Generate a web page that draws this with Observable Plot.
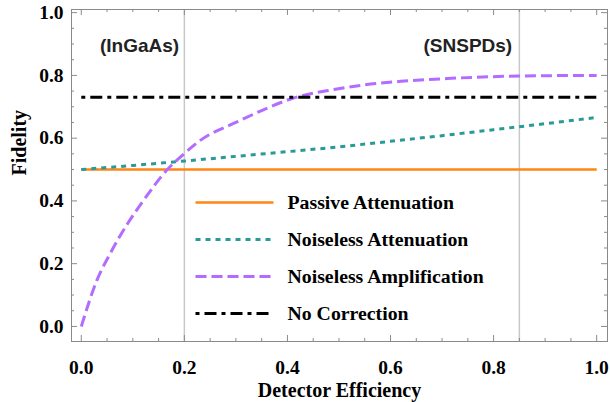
<!DOCTYPE html>
<html>
<head>
<meta charset="utf-8">
<script src="https://cdn.jsdelivr.net/npm/d3@7"></script>
<script src="https://cdn.jsdelivr.net/npm/@observablehq/plot@0.6"></script>
<style>
  html, body { margin: 0; padding: 0; background: #fff; }
  #chart { width: 610px; height: 402px; overflow: hidden; }
</style>
</head>
<body>
<div id="chart"></div>
<script>
// ---- data ----
const xTicks = [0, 0.2, 0.4, 0.6, 0.8, 1.0];
const yTicks = [0, 0.2, 0.4, 0.6, 0.8, 1.0];
const detectorMarks = [0.2, 0.85];
const detectorNames = ["(InGaAs)", "(SNSPDs)"];
const detectorLabelX = [0.113, 0.75];

const passiveEta = [0, 1];
const passiveF = [0.5, 0.5];

const attenEta = [0, 0.1, 0.2, 0.3, 0.4, 0.5, 0.6, 0.7, 0.8, 0.9, 1.0];
const attenF = [0.500, 0.513, 0.527, 0.542, 0.557, 0.572, 0.590, 0.608, 0.627, 0.646, 0.666];

const ampEta = [0, 0.03, 0.056, 0.09, 0.12, 0.167, 0.2, 0.23, 0.3, 0.36, 0.41, 0.49, 0.55, 0.62, 0.71, 0.85, 1.0];
const ampF = [0, 0.146, 0.232, 0.328, 0.400, 0.500, 0.551, 0.592, 0.650, 0.695, 0.727, 0.755, 0.770, 0.781, 0.790, 0.798, 0.800];

const noCorrEta = [0, 1];
const noCorrF = [0.73, 0.73];

const seriesNames = ["Passive Attenuation", "Noiseless Attenuation", "Noiseless Amplification", "No Correction"];
const seriesColors = ["#ff8514", "#2a9a96", "#b26cff", "#000000"];
const seriesDash = [null, "5,5", "11,5", "4,5,12,5"];
const seriesWidth = [2.6, 3, 3, 3];

// ---- layout ----
const W = 610, H = 402;
const mTop = 9, mRight = 3, mBottom = 61, mLeft = 71;
const xDomain = [-0.019, 1.021];
const yDomain = [-0.048, 1.01];
const plotW = W - mLeft - mRight, plotH = H - mTop - mBottom;
const pxToX = px => xDomain[0] + (px - mLeft) / plotW * (xDomain[1] - xDomain[0]);
const pxToY = py => yDomain[1] - (py - mTop) / plotH * (yDomain[1] - yDomain[0]);

const toRows = (xs, ys) => xs.map((x, i) => ({x, y: ys[i]}));
const seriesData = [
  toRows(passiveEta, passiveF),
  toRows(attenEta, attenF),
  toRows(ampEta, ampF),
  toRows(noCorrEta, noCorrF)
];

const xMinor = d3.range(0, 21).map(i => i * 0.05).filter(v => Math.round(v * 100) % 20 !== 0);
const yMinor = xMinor;
const tickColor = "#8a8a8a";
const serif = "Liberation Serif, Times New Roman, serif";

const marks = [];
// detector reference lines
marks.push(Plot.ruleX(detectorMarks, {x: d => d, stroke: "#c8c8c8", strokeWidth: 1.5}));
// frame
marks.push(Plot.frame({stroke: tickColor, strokeWidth: 1}));
// inward ticks on four sides
const majLen = 6, minLen = 3;
marks.push(Plot.ruleX(xTicks, {x: d => d, insetTop: plotH - majLen, stroke: tickColor}));
marks.push(Plot.ruleX(xMinor, {x: d => d, insetTop: plotH - minLen, stroke: tickColor}));
marks.push(Plot.ruleX(xTicks, {x: d => d, insetBottom: plotH - majLen, stroke: tickColor}));
marks.push(Plot.ruleX(xMinor, {x: d => d, insetBottom: plotH - minLen, stroke: tickColor}));
marks.push(Plot.ruleY(yTicks, {y: d => d, insetRight: plotW - majLen, stroke: tickColor}));
marks.push(Plot.ruleY(yMinor, {y: d => d, insetRight: plotW - minLen, stroke: tickColor}));
marks.push(Plot.ruleY(yTicks, {y: d => d, insetLeft: plotW - majLen, stroke: tickColor}));
marks.push(Plot.ruleY(yMinor, {y: d => d, insetLeft: plotW - minLen, stroke: tickColor}));

// series lines
seriesData.forEach((rows, i) => {
  marks.push(Plot.line(rows, {
    x: "x", y: "y", stroke: seriesColors[i], strokeWidth: seriesWidth[i],
    strokeDasharray: seriesDash[i], strokeLinecap: "butt",
    curve: i === 2 ? "monotone-x" : "linear"
  }));
});

// detector annotations
marks.push(Plot.text(detectorNames, {
  x: (d, i) => detectorLabelX[i], y: pxToY(45.5), text: d => d,
  fontFamily: "Liberation Sans, Arial, sans-serif", fontWeight: "bold",
  fontSize: 19, fill: "#222"
}));

// legend
const legX1 = pxToX(195), legX2 = pxToX(273), legTextX = pxToX(287);
const legPy = [202, 239, 276, 313];
seriesNames.forEach((name, i) => {
  const ly = pxToY(legPy[i]);
  marks.push(Plot.line([{x: legX1, y: ly}, {x: legX2, y: ly}], {
    x: "x", y: "y", stroke: seriesColors[i], strokeWidth: seriesWidth[i],
    strokeDasharray: seriesDash[i], strokeLinecap: "butt"
  }));
  marks.push(Plot.text([name], {
    x: legTextX, y: ly, text: d => d, textAnchor: "start",
    fontFamily: serif, fontWeight: "bold", fontSize: 19.8, fill: "#000"
  }));
});

// axes
marks.push(Plot.axisX({ticks: xTicks, tickFormat: d3.format(".1f"), tickSize: 0, tickPadding: 19, label: null,
  fontSize: 19.5, fontWeight: "bold", fontFamily: serif, fill: "#000"}));
marks.push(Plot.axisY({ticks: yTicks, tickFormat: d3.format(".1f"), tickSize: 0, tickPadding: 8, label: null,
  fontSize: 19.5, fontWeight: "bold", fontFamily: serif, fill: "#000"}));
// axis titles
marks.push(Plot.text(["Detector Efficiency"], {frameAnchor: "bottom", dy: 55, text: d => d,
  fontFamily: serif, fontWeight: "bold", fontSize: 20, fill: "#000"}));
marks.push(Plot.text(["Fidelity"], {frameAnchor: "left", dx: -52, rotate: -90, text: d => d,
  fontFamily: serif, fontWeight: "bold", fontSize: 20, fill: "#000"}));

const chart = Plot.plot({
  width: W, height: H,
  marginTop: mTop, marginRight: mRight, marginBottom: mBottom, marginLeft: mLeft,
  x: {domain: xDomain, axis: null},
  y: {domain: yDomain, axis: null},
  style: {fontFamily: serif, background: "#fff"},
  marks
});
document.getElementById("chart").appendChild(chart);
</script>
</body>
</html>
